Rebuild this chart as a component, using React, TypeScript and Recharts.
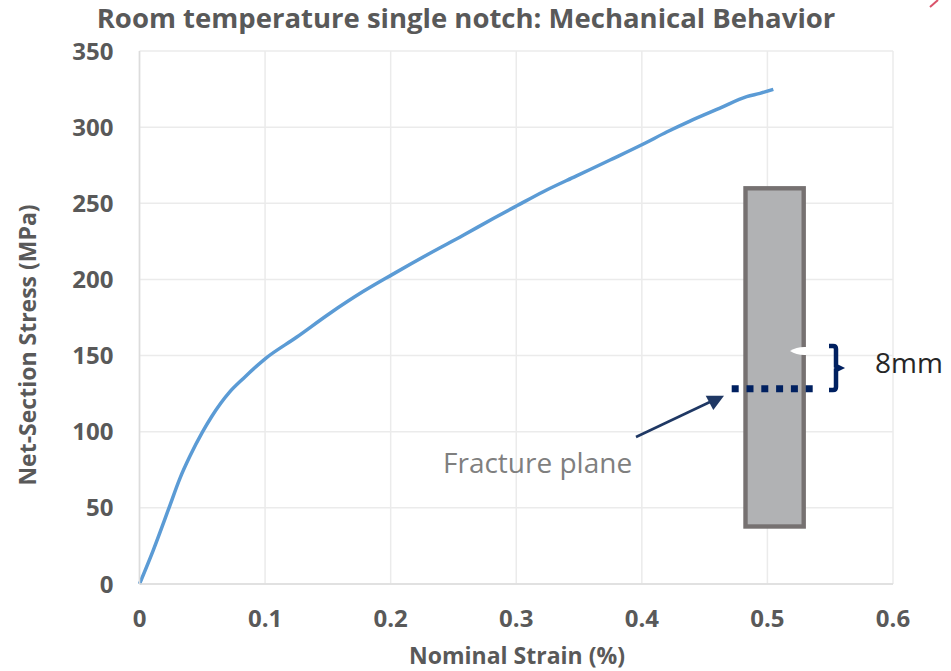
import { CartesianGrid, Line, LineChart, XAxis, YAxis } from "recharts";

const strain = [0, 0.011, 0.0235, 0.0322, 0.0402, 0.0503, 0.0575, 0.0717, 0.0827, 0.1005, 0.125, 0.1517, 0.178, 0.2008, 0.2313, 0.2578, 0.2817, 0.3008, 0.3215, 0.348, 0.3747, 0.4012, 0.4198, 0.4383, 0.4622, 0.4835, 0.4941, 0.5047];
const stress = [0, 22.3, 50, 69.4, 84, 100, 110, 126, 135, 148.2, 162, 177.8, 192, 203, 217.2, 229, 240, 248.5, 257.6, 268, 278.4, 288.9, 296.8, 304, 312.5, 320, 322.2, 324.8];
const xTicks = [0, 0.1, 0.2, 0.3, 0.4, 0.5, 0.6];
const yTicks = [0, 50, 100, 150, 200, 250, 300, 350];

const rows = strain.map((x, i) => ({ x, y: stress[i] }));

const GREY = "#595959";
const LINE = "#5b9bd5";
const NAVY = "#002060";
const FONT = "'Open Sans', sans-serif";
const tick = { fontSize: 24, fontWeight: 700, fill: GREY, fontFamily: FONT };

export default function App() {
  return (
    <div style={{ position: "absolute", left: 0, top: 0, width: 951, height: 671, background: "#fff" }}>
      <LineChart
        width={951}
        height={671}
        data={rows}
        margin={{ top: 51, right: 58, left: 79.5, bottom: 47 }}
      >
        <CartesianGrid stroke="#ebebeb" strokeWidth={1.5} />
        <XAxis
          dataKey="x"
          type="number"
          domain={[0, 0.6]}
          ticks={xTicks}
          height={40}
          tickLine={false}
          axisLine={{ stroke: "#dcdcdc", strokeWidth: 1.5 }}
          tick={tick}
          tickMargin={20}
        />
        <YAxis
          dataKey="y"
          type="number"
          domain={[0, 350]}
          ticks={yTicks}
          width={60}
          tickLine={false}
          axisLine={{ stroke: "#dcdcdc", strokeWidth: 1.5 }}
          tick={tick}
          tickMargin={20}
        />
        <Line
          type="monotone"
          dataKey="y"
          stroke={LINE}
          strokeWidth={3.5}
          dot={false}
          isAnimationActive={false}
        />
      </LineChart>

      {/* title, axis titles and the specimen sketch sit on top of the chart */}
      <svg width={951} height={671} style={{ position: "absolute", left: 0, top: 0 }} fontFamily={FONT}>
        <text x={466} y={28} textAnchor="middle" fontSize={27.5} fontWeight={700} fill={GREY}>
          Room temperature single notch: Mechanical Behavior
        </text>
        <text x={517} y={664} textAnchor="middle" fontSize={23} fontWeight={700} fill={GREY}>
          Nominal Strain (%)
        </text>
        <text
          transform="translate(36,345) rotate(-90)"
          textAnchor="middle"
          fontSize={23}
          fontWeight={700}
          fill={GREY}
        >
          Net-Section Stress (MPa)
        </text>

        <line x1={930} y1={7} x2={938} y2={0} stroke="#d9536a" strokeWidth={2} />

        <rect x={745.5} y={188.3} width={58.2} height={338.2} fill="#b1b2b4" stroke="#767171" strokeWidth={4.4} />
        <path d="M790,351 Q797,346.5 806,347 L806,355 Q797,355.5 790,351 Z" fill="#fff" />
        <line x1={731.7} y1={388.7} x2={813.3} y2={388.7} stroke={NAVY} strokeWidth={7} strokeDasharray="7 7.8" />
        <path
          d="M829,346 L833,346 Q836,346 836,349 L836,366 L840,368 L836,370 L836,387 Q836,390 833,390 L829,390"
          fill="none"
          stroke={NAVY}
          strokeWidth={4.5}
        />
        <line x1={636} y1={437} x2={712} y2={401} stroke="#1f3864" strokeWidth={2.5} />
        <polygon points="724,395.7 705.7,395.7 713.3,410" fill="#1f3864" />
        <text x={443} y={473} fontSize={28} fill="#7f7f7f">
          Fracture plane
        </text>
        <text x={875} y={373} fontSize={28} fill="#262626">
          8mm
        </text>
      </svg>
    </div>
  );
}
